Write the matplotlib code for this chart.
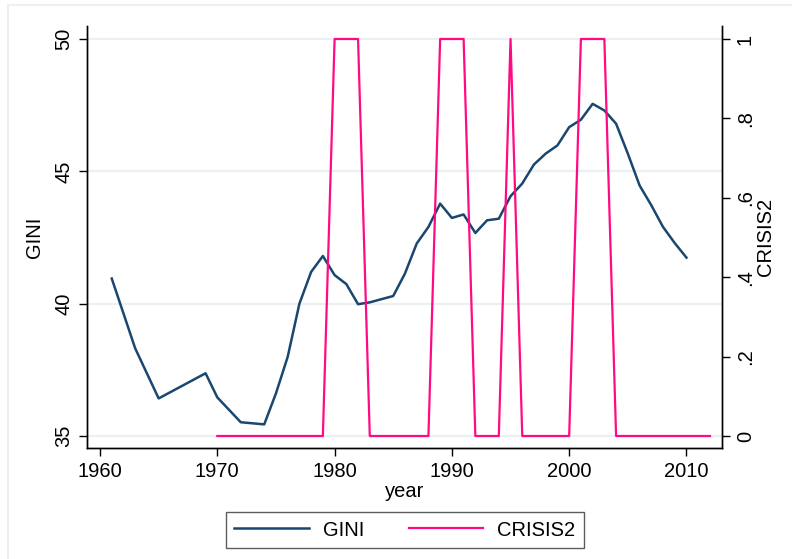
import matplotlib.pyplot as plt
from matplotlib.lines import Line2D

plt.rcParams['font.family'] = ['Liberation Sans', 'DejaVu Sans']

# GINI series (only the years that have a value)
gini_years = [1961, 1963, 1965, 1969, 1970, 1972, 1974, 1975, 1976, 1977, 1978,
              1979, 1980, 1981, 1982, 1983, 1985, 1986, 1987, 1988, 1989, 1990,
              1991, 1992, 1993, 1994, 1995, 1996, 1997, 1998, 1999, 2000, 2001,
              2002, 2003, 2004, 2005, 2006, 2007, 2008, 2009, 2010]
gini = [40.95, 38.31, 36.42, 37.37, 36.46, 35.52, 35.44, 36.61, 37.99, 40.0, 41.2,
        41.8, 41.08, 40.74, 39.98, 40.05, 40.29, 41.14, 42.27, 42.9, 43.78, 43.24,
        43.37, 42.67, 43.15, 43.21, 44.06, 44.54, 45.26, 45.67, 45.98, 46.67, 46.95,
        47.55, 47.3, 46.8, 45.67, 44.47, 43.72, 42.9, 42.29, 41.74]

# crisis dummy
crisis_years = list(range(1970, 2013))
crisis_on = [1980, 1981, 1982, 1989, 1990, 1991, 1995, 2001, 2002, 2003]
crisis2 = [1 if y in crisis_on else 0 for y in crisis_years]

gini_ticks = [35, 40, 45, 50]
crisis_ticks = [0, 0.2, 0.4, 0.6, 0.8, 1]
crisis_labels = ['0', '.2', '.4', '.6', '.8', '1']
year_ticks = [1960, 1970, 1980, 1990, 2000, 2010]

navy = '#1a476f'
pink = '#ff0a84'
grid_col = '#eaf0f3'
fs = 14.5

fig = plt.figure(figsize=(7.92, 5.59), dpi=100)
ax = fig.add_axes([87 / 792, 1 - 448 / 559, (722 - 87) / 792, (448 - 26) / 559])
ax2 = ax.twinx()

ax.plot(gini_years, gini, color=navy, lw=1.8, zorder=3)
ax2.plot(crisis_years, crisis2, color=pink, lw=1.6, zorder=3)

ax.set_xlim(1958.89, 2013.03)
ax.set_ylim(34.547, 50.491)
ax2.set_ylim(-0.0302, 1.0327)

ax.set_xticks(year_ticks)
ax.set_yticks(gini_ticks)
ax2.set_yticks(crisis_ticks)
ax2.set_yticklabels(crisis_labels)

for t in gini_ticks:
    ax.axhline(t, color=grid_col, lw=1.6, zorder=0)

ax.spines['top'].set_visible(False)
ax2.spines['top'].set_visible(False)
for a in (ax, ax2):
    for s in a.spines.values():
        s.set_linewidth(1.0)
ax.tick_params(axis='both', direction='out', length=6, width=1, labelsize=fs, pad=4)
ax2.tick_params(axis='y', direction='out', length=6, width=1, labelsize=fs, pad=4)
for lab in ax.get_yticklabels():
    lab.set_rotation(90)
    lab.set_va('center')
for lab in ax2.get_yticklabels():
    lab.set_rotation(90)
    lab.set_va('center')

ax.set_ylabel('GINI', fontsize=fs, labelpad=7)
ax2.set_ylabel('CRISIS2', fontsize=fs, labelpad=1)
ax.set_xlabel('year', fontsize=fs, labelpad=1)

handles = [Line2D([], [], color=navy, lw=1.8), Line2D([], [], color=pink, lw=1.6)]
leg = fig.legend(handles, ['GINI', 'CRISIS2'], loc='center', ncol=2,
                 bbox_to_anchor=(405 / 792, 1 - 530 / 559), fontsize=fs,
                 frameon=True, fancybox=False, edgecolor='#333333',
                 handlelength=3.7, columnspacing=2.2, borderpad=0.4, handletextpad=0.7)
leg.get_frame().set_linewidth(1.0)

# light outer border of the graph region (top and left only, rest is cropped)
fig.add_artist(Line2D([8 / 792, 1], [1 - 5 / 559, 1 - 5 / 559], color=grid_col, lw=1.5))
fig.add_artist(Line2D([8 / 792, 8 / 792], [0, 1 - 5 / 559], color=grid_col, lw=1.5))

fig.savefig('out.png', dpi=100)
